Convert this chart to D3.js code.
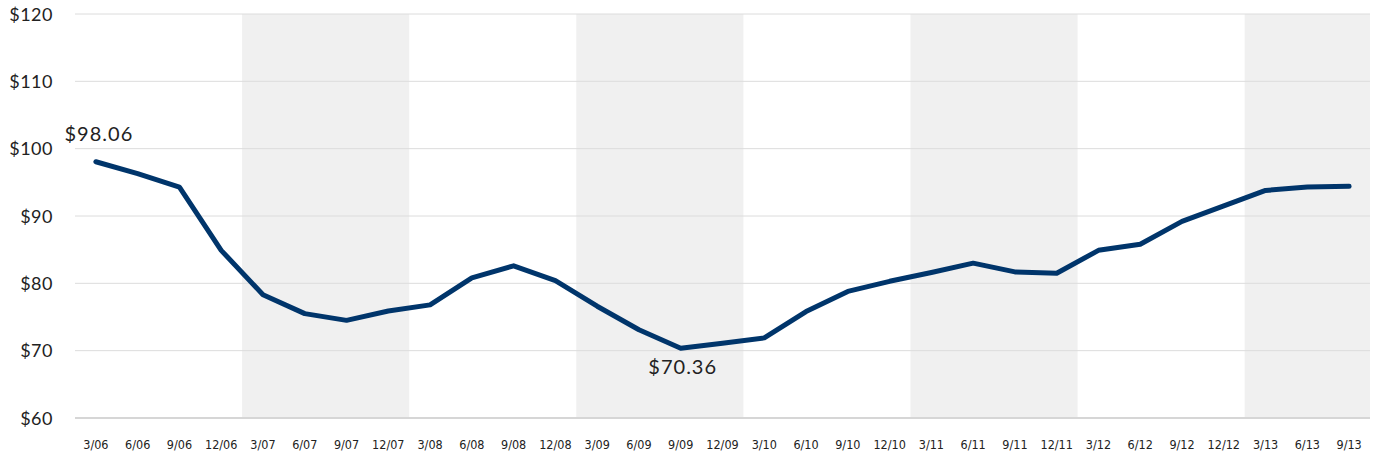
<!DOCTYPE html>
<html>
<head>
<meta charset="utf-8">
<script src="https://cdn.jsdelivr.net/npm/d3@7"></script>
<style>
  body { margin: 0; background: #fff; }
  .ylab { font-family: Lato, "Open Sans", sans-serif; font-size: 18px; letter-spacing: 0.5px; fill: #222; }
  .xlab { font-family: "DejaVu Sans Condensed", Roboto, sans-serif; font-size: 12.5px; fill: #222; }
  .note { font-family: Lato, "Open Sans", sans-serif; font-size: 20px; letter-spacing: 1px; fill: #222; }
</style>
</head>
<body>
<div id="chart"></div>
<script>
// quarter labels
var quarters = ["3/06","6/06","9/06","12/06","3/07","6/07","9/07","12/07","3/08","6/08","9/08","12/08",
  "3/09","6/09","9/09","12/09","3/10","6/10","9/10","12/10","3/11","6/11","9/11","12/11",
  "3/12","6/12","9/12","12/12","3/13","6/13","9/13"];

// price per quarter
var prices = [98.06, 96.3, 94.3, 84.9, 78.3, 75.5, 74.5, 75.9, 76.8, 80.8, 82.6, 80.4,
  76.6, 73.1, 70.36, 71.1, 71.9, 75.8, 78.8, 80.3, 81.6, 83.0, 81.7, 81.5,
  84.9, 85.8, 89.2, 91.5, 93.8, 94.3, 94.4];

var yTicks = [60, 70, 80, 90, 100, 110, 120];

// shaded years: first and last quarter of each band
var shadedYears = [["3/07","12/07"], ["3/09","12/09"], ["3/11","12/11"], ["3/13","9/13"]];

// labelled points
var notes = [{q: "3/06", v: 98.06}, {q: "9/09", v: 70.36}];

var svgWidth = 1380;
var svgHeight = 462;

var svg = d3.select("#chart")
  .append("svg")
  .attr("width", svgWidth)
  .attr("height", svgHeight);

var x = d3.scaleBand()
  .domain(quarters)
  .range([75, 1370]);

var y = d3.scaleLinear()
  .domain([60, 120])
  .range([418, 14]);

var cx = q => x(q) + x.bandwidth() / 2;

// shaded bands
svg.selectAll("rect.band")
  .data(shadedYears)
  .enter()
  .append("rect")
  .attr("class", "band")
  .attr("x", d => x(d[0]))
  .attr("y", y(120))
  .attr("width", d => x(d[1]) + x.bandwidth() - x(d[0]))
  .attr("height", y(60) - y(120))
  .attr("fill", "#f0f0f0");

// gridlines
svg.selectAll("line.grid")
  .data(yTicks)
  .enter()
  .append("line")
  .attr("x1", 75)
  .attr("x2", 1370)
  .attr("y1", d => y(d))
  .attr("y2", d => y(d))
  .attr("stroke", d => d === 60 ? "#d6d6d6" : "#dcdcdc")
  .attr("stroke-width", d => d === 60 ? 2 : 1);

// y labels
var leftAxis = d3.axisLeft(y)
  .tickValues(yTicks)
  .tickFormat(d => "$" + d)
  .tickSize(0)
  .tickPadding(0);

var yAxis = svg.append("g")
  .attr("transform", "translate(53,0)")
  .call(leftAxis);
yAxis.select(".domain").remove();
yAxis.selectAll("text")
  .attr("class", "ylab")
  .attr("font-size", null)
  .attr("font-family", null)
  .attr("fill", null)
  .attr("dy", "0.35em");

// x labels
var bottomAxis = d3.axisBottom(x)
  .tickSize(0)
  .tickPadding(0);

var xAxis = svg.append("g")
  .attr("transform", "translate(0,440)")
  .call(bottomAxis);
xAxis.select(".domain").remove();
xAxis.selectAll("text")
  .attr("class", "xlab")
  .attr("font-size", null)
  .attr("font-family", null)
  .attr("fill", null)
  .attr("dy", "0.75em");

// price line
var line = d3.line()
  .x((d, i) => cx(quarters[i]))
  .y(d => y(d));

svg.append("path")
  .datum(prices)
  .attr("d", line)
  .attr("fill", "none")
  .attr("stroke", "#00356b")
  .attr("stroke-width", 5)
  .attr("stroke-linejoin", "round")
  .attr("stroke-linecap", "round");

// value notes
svg.selectAll("text.note")
  .data(notes)
  .enter()
  .append("text")
  .attr("class", "note")
  .attr("x", d => cx(d.q) + (d.q === "3/06" ? 3 : 2))
  .attr("y", d => d.q === "3/06" ? y(d.v) - 21 : y(d.v) + 26)
  .attr("text-anchor", "middle")
  .text(d => "$" + d.v.toFixed(2));
</script>
</body>
</html>
